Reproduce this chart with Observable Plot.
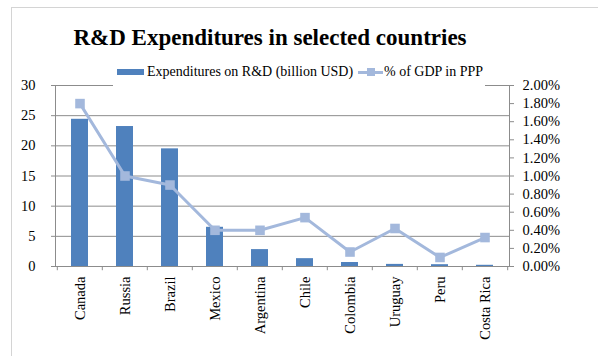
<!DOCTYPE html>
<html><head><meta charset="utf-8">
<script src="https://cdn.jsdelivr.net/npm/d3@7"></script>
<script src="https://cdn.jsdelivr.net/npm/@observablehq/plot@0.6"></script>
<style>
body{margin:0;background:#fff;width:598px;height:356px;overflow:hidden;position:relative;font-family:"Liberation Serif",serif;}
#frame{position:absolute;left:11px;top:7px;width:700px;height:500px;border:1px solid #d4d4d4;}
#chart{position:absolute;left:0;top:0;}
#title{position:absolute;left:0;width:540px;top:26px;text-align:center;font-weight:bold;font-size:23px;line-height:23px;color:#000;}
#legend{position:absolute;left:113px;top:63px;width:372px;height:24px;background:#fff;font-size:14px;color:#000;}
#legend .sw1{position:absolute;left:4px;top:6px;width:27px;height:6px;background:#4f81bd;}
#legend .t1{position:absolute;left:34px;top:1px;line-height:16px;white-space:nowrap;}
#legend .sw2{position:absolute;left:245px;top:7.5px;width:25px;height:3px;background:#a3b8dc;}
#legend .mk{position:absolute;left:253.5px;top:5px;width:8px;height:8px;background:#a3b8dc;}
#legend .t2{position:absolute;left:271px;top:1px;line-height:16px;white-space:nowrap;}
</style></head>
<body>
<div id="frame"></div>
<div id="chart"></div>
<div id="title">R&amp;D Expenditures in selected countries</div>
<div id="legend"><span class="sw1"></span><span class="t1">Expenditures on R&amp;D (billion USD)</span><span class="sw2"></span><span class="mk"></span><span class="t2">% of GDP in PPP</span></div>
<script>
const countries = ["Canada","Russia","Brazil","Mexico","Argentina","Chile","Colombia","Uruguay","Peru","Costa Rica"];
const expenditures = [24.4, 23.2, 19.5, 6.5, 2.8, 1.3, 0.66, 0.35, 0.3, 0.2];
const gdpShare = [1.80, 1.00, 0.90, 0.40, 0.40, 0.54, 0.16, 0.42, 0.10, 0.32];
const leftTicks = [0,5,10,15,20,25,30];
const rightTicks = [0,0.2,0.4,0.6,0.8,1.0,1.2,1.4,1.6,1.8,2.0];
const pctFactor = 15; // 2.00% on the right axis aligns with 30 on the left

const data = countries.map((c,i)=>({country:c, exp:expenditures[i], pct:gdpShare[i]}));
const W = 598, mL = 55, mR = 89;
const step = (W - mL - mR) / countries.length;

const plot = Plot.plot({
  width: W, height: 356,
  marginLeft: mL, marginRight: mR, marginTop: 85, marginBottom: 90,
  style: {fontFamily: "'Liberation Serif', serif", fontSize: "14.5px", color: "#000", background: "transparent", overflow: "visible"},
  x: {domain: countries, paddingInner: 0.62, paddingOuter: 0.31, label: null},
  y: {domain: [0, 30], label: null},
  marks: [
    Plot.gridY(leftTicks, {stroke: "#8c8c8c", strokeOpacity: 1}),
    Plot.barY(data, {x: "country", y: "exp", fill: "#4f81bd"}),
    Plot.frame({stroke: "#8c8c8c"}),
    Plot.ruleX(countries, {x: d => d, y1: 0, y2: -0.7, dx: -step/2, stroke: "#8c8c8c"}),
    Plot.ruleX(countries.slice(-1), {x: d => d, y1: 0, y2: -0.7, dx: step/2, stroke: "#8c8c8c"}),
    Plot.axisY(leftTicks, {anchor: "left", tickSize: 4, tickPadding: 16, stroke: "#8c8c8c", fill: "#000", label: null}),
    Plot.axisY(rightTicks.map(v => v*pctFactor), {anchor: "right", tickSize: 4, tickPadding: 9, stroke: "#8c8c8c", fill: "#000", label: null,
      tickFormat: d => (d/pctFactor).toFixed(2) + "%"}),
    Plot.axisX({anchor: "bottom", tickRotate: -90, tickSize: 0, tickPadding: 10, fill: "#000", label: null}),
    Plot.line(data, {x: "country", y: d => d.pct*pctFactor, stroke: "#a3b8dc", strokeWidth: 3}),
    Plot.dot(data, {x: "country", y: d => d.pct*pctFactor, symbol: "square", r: 5.4, fill: "#a3b8dc", stroke: "none"})
  ]
});
document.getElementById("chart").appendChild(plot);
</script>
</body></html>
